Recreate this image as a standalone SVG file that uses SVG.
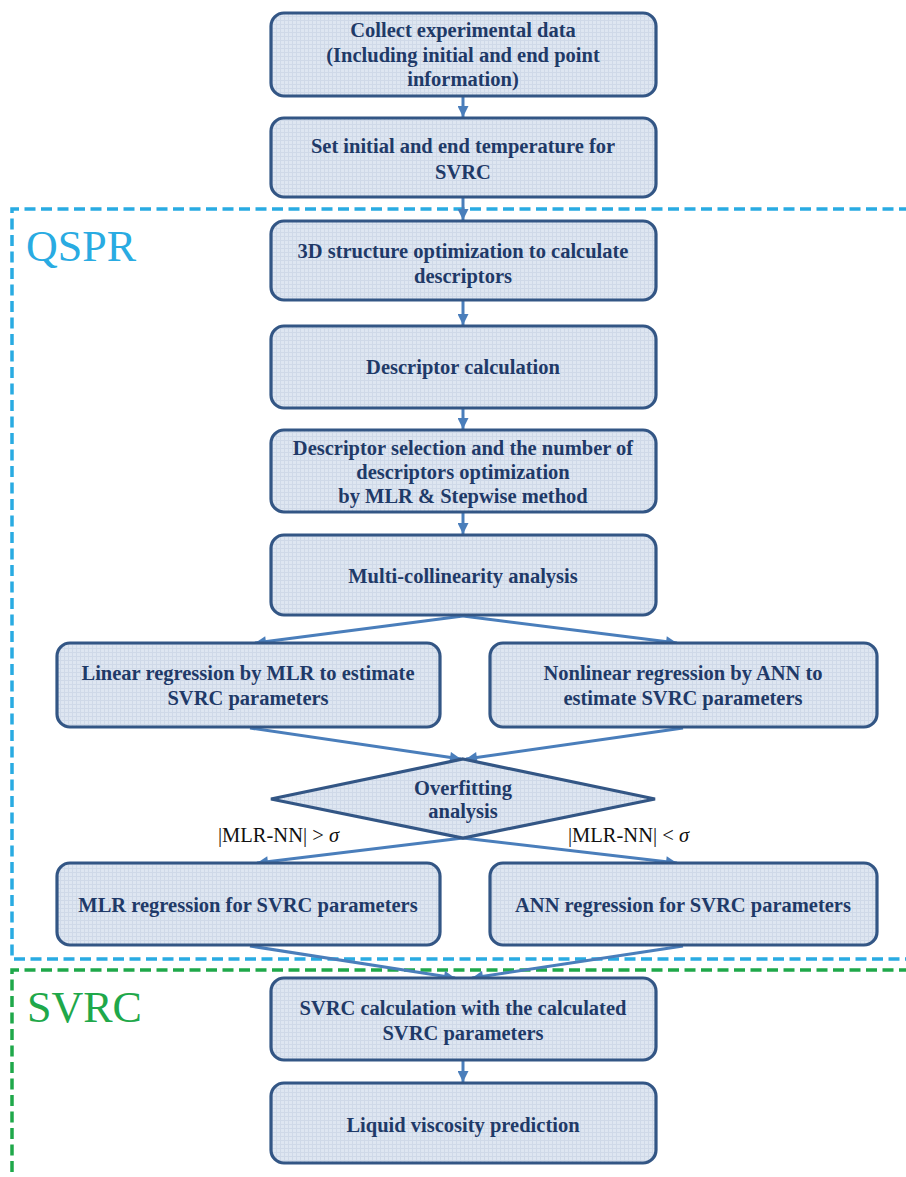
<svg xmlns="http://www.w3.org/2000/svg" width="906" height="1177" viewBox="0 0 906 1177">
<defs>
<pattern id="grid" width="4" height="4" patternUnits="userSpaceOnUse">
<rect width="4" height="4" fill="#dee6f1"/>
<path d="M0 0.5H4M0.5 0V4" stroke="#cfd9e8" stroke-width="1"/>
</pattern>
<marker id="ah" viewBox="0 0 10 10" refX="10" refY="5" markerWidth="12" markerHeight="11" markerUnits="userSpaceOnUse" orient="auto">
<path d="M0 0L10 5L0 10z" fill="#4a7ebb"/>
</marker>
<style>
.box{fill:url(#grid);stroke:#335685;stroke-width:3.2}
.t{font-family:"Liberation Serif","Times New Roman",serif;font-weight:bold;font-size:20.5px;fill:#1f3a68;text-anchor:middle}
.lbl{font-family:"Liberation Serif","Times New Roman",serif;font-size:20.5px;fill:#111}
.conn{stroke:#4a7ebb;stroke-width:3;fill:none;marker-end:url(#ah)}
.qspr{fill:none;stroke:#29abe2;stroke-width:3.5;stroke-dasharray:11 5.5}
.svrcb{fill:none;stroke:#1fa84a;stroke-width:3.5;stroke-dasharray:11 5.5}
.big{font-family:"Liberation Serif","Times New Roman",serif;font-size:44px}
</style>
</defs>
<rect width="906" height="1177" fill="#fff"/>

<g id="region-qspr">
<path class="qspr" d="M910 209H12V959H910"/>
<text class="big" x="26" y="261" fill="#29abe2">QSPR</text>
</g>
<g id="region-svrc">
<path class="svrcb" d="M910 970H12V1180"/>
<text class="big" x="27" y="1022" fill="#1fa84a">SVRC</text>
</g>

<g id="connectors">
<path class="conn" d="M463 97V117"/>
<path class="conn" d="M463 198V220"/>
<path class="conn" d="M463 301V325"/>
<path class="conn" d="M463 409V429"/>
<path class="conn" d="M463 513V534"/>
<path class="conn" d="M463 616L255 643"/>
<path class="conn" d="M463 616L677 643"/>
<path class="conn" d="M250 728L461 759"/>
<path class="conn" d="M683 728L466 759"/>
<path class="conn" d="M463 838L257 863"/>
<path class="conn" d="M463 838L677 863"/>
<path class="conn" d="M250 946L455 978"/>
<path class="conn" d="M683 946L472 978"/>
<path class="conn" d="M463 1061V1082"/>
</g>

<g id="n1">
<rect class="box" x="271" y="13" width="385" height="83" rx="13"/>
<text class="t" x="463" y="37">Collect experimental data</text>
<text class="t" x="463" y="62">(Including initial and end point</text>
<text class="t" x="463" y="86">information)</text>
</g>
<g id="n2">
<rect class="box" x="271" y="118" width="385" height="79" rx="13"/>
<text class="t" x="463" y="153">Set initial and end temperature for</text>
<text class="t" x="463" y="179">SVRC</text>
</g>
<g id="n3">
<rect class="box" x="271" y="221" width="385" height="79" rx="13"/>
<text class="t" x="463" y="258">3D structure optimization to calculate</text>
<text class="t" x="463" y="283">descriptors</text>
</g>
<g id="n4">
<rect class="box" x="271" y="326" width="385" height="82" rx="13"/>
<text class="t" x="463" y="374">Descriptor calculation</text>
</g>
<g id="n5">
<rect class="box" x="271" y="430" width="385" height="82" rx="13"/>
<text class="t" x="463" y="455">Descriptor selection and the number of</text>
<text class="t" x="463" y="479">descriptors optimization</text>
<text class="t" x="463" y="503">by MLR &amp; Stepwise method</text>
</g>
<g id="n6">
<rect class="box" x="271" y="535" width="385" height="80" rx="13"/>
<text class="t" x="463" y="583">Multi-collinearity analysis</text>
</g>
<g id="n7">
<rect class="box" x="57" y="643" width="383" height="84" rx="13"/>
<text class="t" x="248" y="680">Linear regression by MLR to estimate</text>
<text class="t" x="248" y="705">SVRC parameters</text>
</g>
<g id="n8">
<rect class="box" x="490" y="643" width="387" height="84" rx="13"/>
<text class="t" x="683" y="680">Nonlinear regression by ANN to</text>
<text class="t" x="683" y="705">estimate SVRC parameters</text>
</g>
<g id="n9">
<path class="box" d="M463 759L655 799L463 838L271 799Z"/>
<text class="t" x="463" y="795">Overfitting</text>
<text class="t" x="463" y="818">analysis</text>
</g>
<g id="labels">
<text class="lbl" x="218" y="842">|MLR-NN| &gt; <tspan font-style="italic">σ</tspan></text>
<text class="lbl" x="568" y="842">|MLR-NN| &lt; <tspan font-style="italic">σ</tspan></text>
</g>
<g id="n10">
<rect class="box" x="57" y="863" width="383" height="82" rx="13"/>
<text class="t" x="248" y="912">MLR regression for SVRC parameters</text>
</g>
<g id="n11">
<rect class="box" x="490" y="863" width="387" height="82" rx="13"/>
<text class="t" x="683" y="912">ANN regression for SVRC parameters</text>
</g>
<g id="n12">
<rect class="box" x="271" y="978" width="385" height="82" rx="13"/>
<text class="t" x="463" y="1015">SVRC calculation with the calculated</text>
<text class="t" x="463" y="1040">SVRC parameters</text>
</g>
<g id="n13">
<rect class="box" x="271" y="1083" width="385" height="80" rx="13"/>
<text class="t" x="463" y="1132">Liquid viscosity prediction</text>
</g>
</svg>
